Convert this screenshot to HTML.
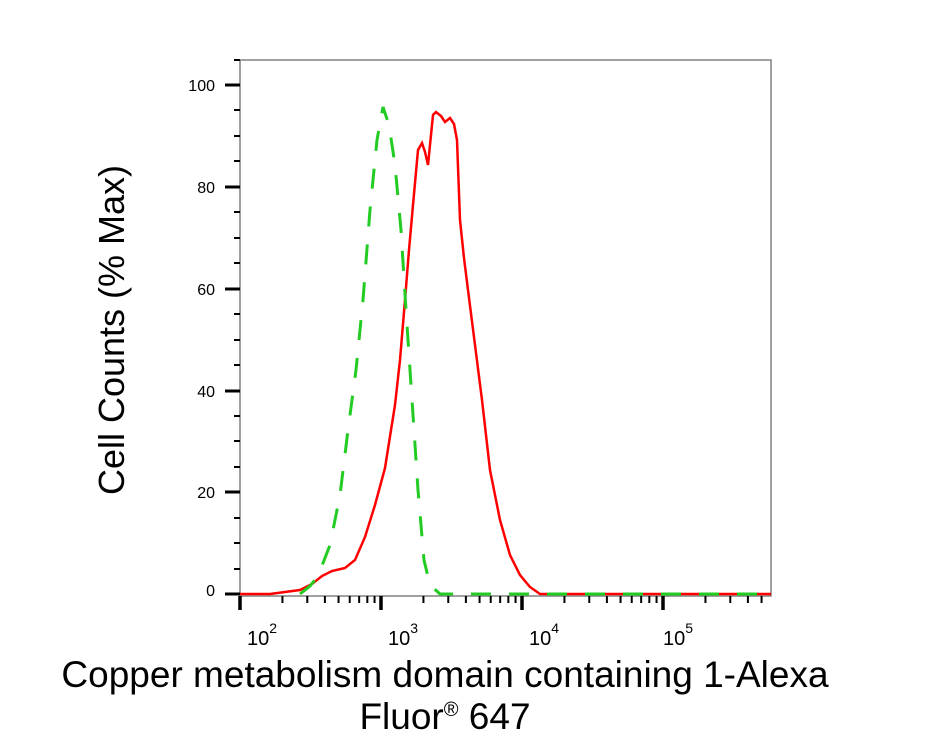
<!DOCTYPE html>
<html><head><meta charset="utf-8"><style>
body{margin:0;background:#fff;}
svg{display:block;font-family:"Liberation Sans",Arial,sans-serif;}
</style></head><body>
<svg width="943" height="751" viewBox="0 0 943 751" xmlns="http://www.w3.org/2000/svg">
<rect x="240" y="60" width="531" height="536" fill="none" stroke="#808080" stroke-width="1.5"/>
<g stroke="#000" stroke-width="2">
<line x1="225" y1="85" x2="240" y2="85" stroke-width="3"/>
<line x1="225" y1="187" x2="240" y2="187" stroke-width="3"/>
<line x1="225" y1="289" x2="240" y2="289" stroke-width="3"/>
<line x1="225" y1="391" x2="240" y2="391" stroke-width="3"/>
<line x1="225" y1="492" x2="240" y2="492" stroke-width="3"/>
<line x1="225" y1="594" x2="240" y2="594" stroke-width="3"/>
<line x1="234" y1="60" x2="240" y2="60"/>
<line x1="234" y1="110" x2="240" y2="110"/><line x1="234" y1="136" x2="240" y2="136"/><line x1="234" y1="161" x2="240" y2="161"/>
<line x1="234" y1="212" x2="240" y2="212"/><line x1="234" y1="238" x2="240" y2="238"/><line x1="234" y1="263" x2="240" y2="263"/>
<line x1="234" y1="314" x2="240" y2="314"/><line x1="234" y1="340" x2="240" y2="340"/><line x1="234" y1="365" x2="240" y2="365"/>
<line x1="234" y1="416" x2="240" y2="416"/><line x1="234" y1="441" x2="240" y2="441"/><line x1="234" y1="467" x2="240" y2="467"/>
<line x1="234" y1="518" x2="240" y2="518"/><line x1="234" y1="543" x2="240" y2="543"/><line x1="234" y1="569" x2="240" y2="569"/>
</g>
<g font-size="16" text-anchor="end" fill="#000">
<text x="215" y="91">100</text><text x="215" y="193">80</text><text x="215" y="295">60</text>
<text x="215" y="397">40</text><text x="215" y="498">20</text><text x="215" y="596">0</text>
</g>
<g id="xt" stroke="#000" stroke-width="2"></g>
<g font-size="20" fill="#000">
<text x="247" y="645">10<tspan font-size="14" dy="-12">2</tspan></text>
<text x="388" y="645">10<tspan font-size="14" dy="-12">3</tspan></text>
<text x="529" y="645">10<tspan font-size="14" dy="-12">4</tspan></text>
<text x="663" y="645">10<tspan font-size="14" dy="-12">5</tspan></text>
</g>
<polyline fill="none" stroke="#ff0000" stroke-width="2.5" points="240,594 270,594 285,592 300,590 312,584 322,576 332,571 345,568 355,560 365,537 375,505 385,468 395,405 400,360 405,300 409,250 413,205 418,150 422,143 425,152 428,165 433,115 436,112 441,116 445,122 450,118 454,124 457,140 460,220 464,258 468,290 475,345 482,400 490,470 500,520 510,555 520,575 530,587 540,594 771,594"/>
<polyline fill="none" stroke="#22cc22" stroke-width="3" stroke-dasharray="20,18" points="300,594 310,586 318,576 330,545 340,495 348,430 356,370 363,300 370,210 377,140 383,107 389,125 395,165 401,230 406,310 412,400 418,490 424,560 430,585 440,594 771,594"/>
<text x="0" y="0" font-size="36" transform="translate(124,330) rotate(-90)" text-anchor="middle">Cell Counts (% Max)</text>
<text x="445" y="687" font-size="37" text-anchor="middle">Copper metabolism domain containing 1-Alexa</text>
<text x="445" y="729" font-size="37" text-anchor="middle">Fluor<tspan font-size="20" dy="-13">®</tspan><tspan dy="13"> 647</tspan></text>
</svg>
<script>
var g=document.getElementById('xt'),s='';
function X(v){return 240+141*(Math.log10(v)-2);}
for(var d=2;d<=5;d++){for(var m=1;m<10;m++){var v=m*Math.pow(10,d);var x=X(v);if(x>772)break;
var big=(m==1);s+='<line x1="'+x+'" y1="596" x2="'+x+'" y2="'+(big?610:603)+'" stroke-width="'+(big?3.5:2)+'"/>';}}
g.innerHTML=s;
</script>
</body></html>
